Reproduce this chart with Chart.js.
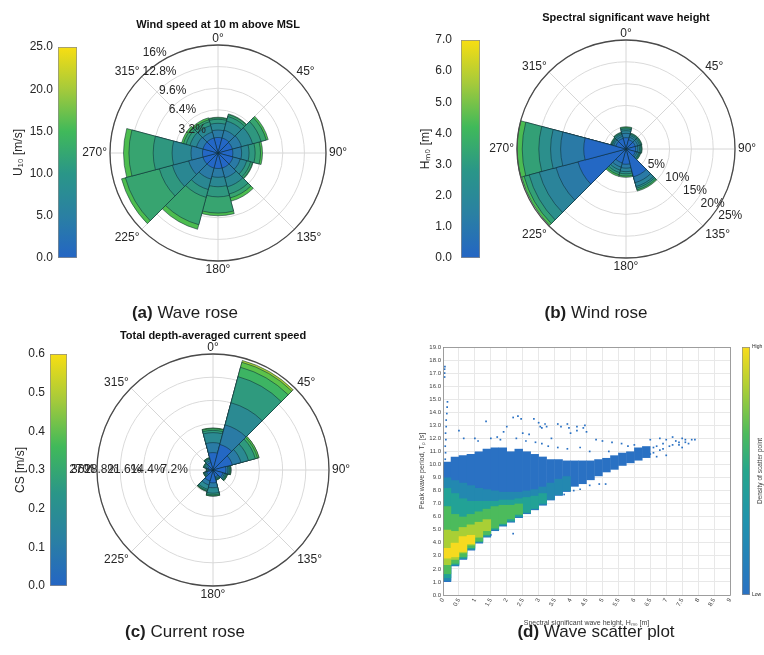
<!DOCTYPE html>
<html><head><meta charset="utf-8">
<script src="https://cdn.jsdelivr.net/npm/chart.js@4.4.1/dist/chart.umd.min.js"></script>
<style>
html,body{margin:0;padding:0;background:#fff;width:764px;height:655px;overflow:hidden;font-family:"Liberation Sans",Arial,sans-serif;}
canvas{position:absolute;}
.cap{position:absolute;font-size:17px;color:#1e1e1e;white-space:nowrap;transform:translate(-50%,-50%);}
</style></head><body>
<canvas id="cbA" style="left:0px;top:30px" width="95" height="245"></canvas>
<canvas id="roseA" style="left:68px;top:3px" width="300" height="300"></canvas>
<canvas id="cbB" style="left:400px;top:20px" width="95" height="260"></canvas>
<canvas id="roseB" style="left:476px;top:-1px" width="300" height="300"></canvas>
<canvas id="cbC" style="left:0px;top:334px" width="85" height="272"></canvas>
<canvas id="roseC" style="left:53px;top:310px" width="320" height="320"></canvas>
<canvas id="scat" style="left:395px;top:325px" width="345" height="310"></canvas>
<canvas id="cbD" style="left:730px;top:325px" width="34" height="290"></canvas>
<div class="cap" style="left:185px;top:313px"><b>(a)</b> Wave rose</div>
<div class="cap" style="left:596px;top:313px"><b>(b)</b> Wind rose</div>
<div class="cap" style="left:185px;top:632px"><b>(c)</b> Current rose</div>
<div class="cap" style="left:596px;top:632px"><b>(d)</b> Wave scatter plot</div>
<script>
// ---------------- DATA ----------------
const SECTORS = ['0°','30°','60°','90°','120°','150°','180°','210°','240°','270°','300°','330°'];
const ROSE_ANGLES = [0,45,90,135,180,225,270,315];

// (a) wind speed at 10 m: cumulative frequency (%) per sector, one row per speed class (inner -> outer)
const windCum = [
  [2.3,2.3,2.2,2.2,2.3,2.3,2.3,2.3,2.3,2.3,2.3,2.3],
  [3.4,3.5,3.6,3.5,3.4,3.8,3.6,4.0,4.5,4.0,3.3,3.2],
  [4.4,4.9,5.3,4.6,4.4,5.2,5.0,5.6,7.0,6.8,4.3,4.2],
  [5.0,5.6,6.6,5.5,5.0,6.3,6.5,6.8,9.0,9.6,4.9,4.8],
  [5.2,5.9,7.4,6.3,5.3,6.9,8.9,11.0,14.2,13.2,5.3,5.1],
  [5.3,6.0,7.7,6.6,5.4,7.4,9.3,11.7,14.8,14.0,5.6,5.4]
];
const windColors = ['#2467c6','#2a7aa5','#2a8792','#2f977f','#37a470','#4dbd4f'];
const windRVals = [3.2,6.4,9.6,12.8,16];
const windRLabels = ['3.2%','6.4%','9.6%','12.8%','16%'];

// (b) significant wave height
const waveCum = [
  [2.6,2.2,2.2,2.2,2.2,6.6,3.5,3.3,11.4,9.7,2.4,2.5],
  [3.6,2.8,2.8,2.7,2.6,8.0,4.4,4.3,16.6,15.0,2.9,3.0],
  [4.2,3.2,3.2,3.1,3.0,8.9,5.2,5.0,20.6,17.3,3.2,3.4],
  [4.6,3.5,3.5,3.4,3.2,9.3,5.7,5.6,23.0,20.0,3.4,3.7],
  [4.9,3.7,3.7,3.6,3.4,9.7,6.2,6.1,24.2,23.8,3.6,3.9],
  [5.1,3.8,3.8,3.7,3.5,10.0,6.5,6.5,24.8,25.0,3.7,4.0]
];
const waveColors = ['#2468c4','#2a7aa6','#2b849a','#2c8f8c','#33a076','#4cbc52'];
const waveRVals = [5,10,15,20,25];
const waveRLabels = ['5%','10%','15%','20%','25%'];

// (c) depth-averaged current speed
const currCum = [
  [5.4,8.2,6.2,4.0,3.2,2.2,4.0,3.5,2.0,1.2,1.6,2.4],
  [8.5,14.5,9.0,4.6,3.7,2.6,5.5,4.8,2.4,1.5,2.1,3.0],
  [11.6,21.6,11.4,5.0,4.1,2.9,7.2,6.2,2.7,1.8,2.6,3.5],
  [12.3,30.0,13.6,5.3,4.4,3.1,7.7,6.6,2.9,1.9,2.9,3.8],
  [12.8,33.0,14.3,5.5,4.6,3.2,8.0,6.8,3.0,2.0,3.0,3.9],
  [13.0,34.6,14.8,5.6,4.7,3.3,8.1,6.9,3.1,2.1,3.1,4.0],
  [13.0,35.2,14.8,5.6,4.7,3.3,8.1,6.9,3.1,2.1,3.1,4.0]
];
const currColors = ['#2468c4','#2a7ba5','#2b8a92','#2f9a7e','#3db463','#5cc24a','#a5cc36'];
const currRVals = [7.2,14.4,21.6,28.8,36];
const currRLabels = ['7.2%','14.4%','21.6%','28.8%','36%'];

// (d) scatter density: Hs bin centres and Tp ranges per density level
const hsBins = [0.125,0.375,0.625,0.875,1.125,1.375,1.625,1.875,2.125,2.375,2.625,2.875,3.125,3.375,3.625,3.875,4.125,4.375,4.625,4.875,5.125,5.375,5.625,5.875,6.125,6.375];
const densLow = [[1.0,10.2],[2.2,10.6],[2.7,10.7],[3.4,10.8],[3.95,11.0],[4.4,11.2],[4.9,11.3],[5.25,11.3],[5.55,11.0],[5.9,11.2],[6.2,11.0],[6.5,10.8],[6.85,10.6],[7.25,10.4],[7.6,10.4],[7.9,10.3],[8.3,10.3],[8.5,10.3],[8.8,10.3],[9.1,10.4],[9.4,10.5],[9.6,10.7],[9.9,10.9],[10.1,11.0],[10.3,11.3],[10.5,11.4]];
const densMid1 = [[1.1,9.0],[2.25,8.8],[2.75,8.6],[3.45,8.4],[4.0,8.2],[4.45,8.1],[4.95,8.0],[5.3,7.9],[5.6,7.9],[5.95,7.9],[6.25,8.0],[6.55,8.1],[6.9,8.3],[7.3,8.6],[7.65,8.9],[7.95,9.1]];
const densMid2 = [[1.3,8.2],[2.3,7.8],[2.8,7.4],[3.5,7.2],[4.05,7.2],[4.5,7.2],[5.0,7.2],[5.35,7.3],[5.65,7.3],[6.0,7.4],[6.3,7.5],[6.6,7.6],[7.0,7.8]];
const densMid3 = [[1.6,6.8],[2.4,6.2],[2.9,6.0],[3.6,6.2],[4.1,6.4],[4.6,6.6],[5.1,6.8],[5.45,6.9],[5.8,6.9],[6.15,7.0]];
const densHigh1 = [[2.3,5.0],[2.7,4.9],[3.2,5.2],[3.8,5.4],[4.4,5.6],[4.9,5.8]];
const densHigh2 = [[2.8,3.6],[2.9,4.0],[3.3,4.5],[3.9,4.6]];
const densColors = ['#f6da1f','#a9cf35','#4cbb5c','#22a296','#2388b0','#2a71c3'];
const sparsePts = [
  [0.07,10.4],[0.08,10.9],[0.07,11.4],[0.09,11.9],[0.08,12.4],[0.1,12.9],[0.1,13.4],[0.12,13.9],[0.13,14.4],[0.14,14.8],
  [0.05,16.7],[0.05,17.0],[0.05,17.3],[0.06,17.5],
  [1.35,13.3],[2.2,13.6],[2.35,13.7],[2.45,13.5],[2.85,13.5],[3.0,13.2],[3.05,12.9],[3.2,13.1],[3.1,12.8],[3.25,12.9],
  [3.6,13.1],[3.7,12.9],[3.9,13.1],[3.95,12.8],[4.2,12.9],[4.4,12.8],[4.45,13.0],[4.2,12.6],[2.0,12.9],[1.9,12.5],
  [2.5,12.4],[2.7,12.3],[3.4,12.0],[4.0,12.4],[4.5,12.5],[5.0,11.8],[4.8,11.9],[5.3,11.7],[5.6,11.6],[6.5,11.9],
  [6.8,12.0],[7.0,11.9],[7.2,12.1],[7.5,12.0],[7.6,11.7],[7.8,11.9],[7.4,11.5],[7.1,11.4],[6.9,11.2],[6.6,11.3],
  [7.0,10.7],[6.7,10.6],[6.4,11.0],[6.2,11.2],[6.9,11.6],[7.3,11.8],[7.5,11.3],[0.5,12.6],[0.65,12.0],[1.0,12.0],
  [1.1,11.8],[1.5,12.0],[1.7,12.1],[1.8,11.9],[2.3,12.0],[2.6,11.8],[2.9,11.7],[3.1,11.6],[3.3,11.4],[3.6,11.3],
  [3.9,11.2],[4.3,11.3],[4.6,11.0],[5.2,11.0],[5.8,11.4],[6.0,11.5],[1.5,4.6],[2.2,4.7],[3.8,7.7],[4.1,8.0],
  [4.6,8.4],[4.9,8.5],[5.1,8.5],[4.3,8.1],[6.6,10.9],[6.8,11.1],[7.2,11.5],[7.4,11.7],[7.6,11.9],[7.9,11.9],[7.7,11.6],[6.5,10.8],[6.7,11.4]
];

// ---------------- HELPERS ----------------
const FONT = '"Liberation Sans", Arial, sans-serif';
Chart.defaults.font.family = FONT;
Chart.defaults.color = '#262626';

const roseStops = [[0,'#2465c4'],[0.2,'#2a80a3'],[0.4,'#2a9688'],[0.6,'#40b95a'],[0.8,'#a5ca3b'],[1,'#f8de12']];
const densStops = [[0,'#2a71c3'],[0.3,'#2093ad'],[0.5,'#26a68c'],[0.65,'#4dbb5d'],[0.85,'#b3d033'],[1,'#f9dc1c']];

function makeColorbar(id, o) {
  return new Chart(document.getElementById(id), {
    type: 'bar',
    data: { labels: ['cb'], datasets: [{
      data: [o.max],
      backgroundColor: (c) => {
        const ca = c.chart.chartArea; if (!ca) return o.stops[0][1];
        const g = c.chart.ctx.createLinearGradient(0, ca.bottom, 0, ca.top);
        o.stops.forEach(s => g.addColorStop(s[0], s[1])); return g;
      },
      borderColor: '#8c8c8c', borderWidth: 1, borderSkipped: false,
      barPercentage: 1, categoryPercentage: 1
    }]},
    options: {
      responsive: false, animation: false,
      layout: { padding: o.pad },
      plugins: { legend: {display:false}, tooltip: {enabled:false} },
      scales: {
        x: { display: false },
        y: { position: o.position || 'left', min: 0, max: o.max,
          ticks: { stepSize: o.step, callback: o.fmt, font: {size: o.fontSize || 12}, color: '#262626', padding: o.tickPad },
          grid: { display: false, drawTicks: false }, border: { display: false },
          title: { display: !!o.title, text: o.title || '', font: {size: 12}, color: '#262626', padding: {top: o.titlePad || 0, bottom: 0} },
          afterFit: (s) => { s.width = o.axisW; }
        }
      }
    },
    plugins: o.plugins || []
  });
}

const rosePlugin = {
  id: 'rose',
  beforeDatasetsDraw(chart, args, opts) {
    const s = chart.scales.r, ctx = chart.ctx;
    ctx.save(); ctx.strokeStyle = '#d6d6d6'; ctx.lineWidth = 1;
    ROSE_ANGLES.forEach(a => {
      const t = (a - 90) * Math.PI / 180;
      ctx.beginPath(); ctx.moveTo(s.xCenter, s.yCenter);
      ctx.lineTo(s.xCenter + s.drawingArea * Math.cos(t), s.yCenter + s.drawingArea * Math.sin(t));
      ctx.stroke();
    });
    ctx.restore();
  },
  afterDraw(chart, args, opts) {
    const s = chart.scales.r, ctx = chart.ctx, cx = s.xCenter, cy = s.yCenter, R = s.drawingArea;
    ctx.save();
    ctx.strokeStyle = '#4a4a4a'; ctx.lineWidth = 1.3;
    ctx.beginPath(); ctx.arc(cx, cy, R, 0, Math.PI * 2); ctx.stroke();
    ctx.fillStyle = '#111'; ctx.font = 'bold 11px ' + FONT; ctx.textAlign = 'center'; ctx.textBaseline = 'middle';
    ctx.fillText(opts.title, cx, cy - R - opts.titleGap);
    ctx.font = '12px ' + FONT; ctx.fillStyle = '#262626';
    ROSE_ANGLES.forEach(a => {
      const t = (a - 90) * Math.PI / 180, off = 3;
      let x = cx + (R + off) * Math.cos(t), y = cy + (R + off) * Math.sin(t);
      let align = 'center', base = 'middle';
      if (a > 0 && a < 180) align = 'left'; if (a > 180) align = 'right';
      if (a === 0 || a === 45 || a === 315) base = 'alphabetic';
      if (a === 180 || a === 135 || a === 225) base = 'top';
      ctx.textAlign = align; ctx.textBaseline = base;
      ctx.fillText(a + '°', x, y);
    });
    const ra = (opts.rAngle - 90) * Math.PI / 180;
    ctx.textAlign = opts.rAlign; ctx.textBaseline = 'middle';
    opts.rVals.forEach((v, i) => {
      const d = s.getDistanceFromCenterForValue(v) + opts.rOff;
      ctx.fillText(opts.rLabels[i], cx + d * Math.cos(ra), cy + d * Math.sin(ra));
    });
    ctx.restore();
  }
};

function makeRose(id, cum, colors, maxR, stepR, pad, pcfg) {
  const datasets = cum.map((row, i) => ({
    data: row, backgroundColor: colors[i], borderColor: 'rgba(15,45,55,0.55)', borderWidth: 1
  }));
  return new Chart(document.getElementById(id), {
    type: 'polarArea',
    data: { labels: SECTORS, datasets },
    options: {
      responsive: false, animation: false,
      layout: { padding: pad },
      plugins: { legend: {display:false}, tooltip: {enabled:false}, rose: pcfg },
      scales: { r: {
        min: 0, max: maxR, startAngle: -15,
        ticks: { display: false, stepSize: stepR },
        grid: { circular: true, color: '#dadada', lineWidth: 1 },
        angleLines: { display: false }, pointLabels: { display: false }
      }}
    },
    plugins: [rosePlugin]
  });
}

// ---------------- PANELS ----------------
const f1 = v => v.toFixed(1);
makeColorbar('cbA', { max: 25, step: 5, fmt: f1, title: 'U₁₀ [m/s]', axisW: 58, tickPad: 5, titlePad: 11,
  pad: {left: 0, right: 18, top: 17, bottom: 17}, stops: roseStops });
makeRose('roseA', windCum, windColors, 16, 3.2, 42,
  { title: 'Wind speed at 10 m above MSL', titleGap: 20, rVals: windRVals, rLabels: windRLabels, rAngle: -27, rAlign: 'right', rOff: 5 });

makeColorbar('cbB', { max: 7, step: 1, fmt: f1, title: 'Hₘ₀ [m]', axisW: 61, tickPad: 9, titlePad: 18,
  pad: {left: 0, right: 15, top: 20, bottom: 22}, stops: roseStops });
makeRose('roseB', waveCum, waveColors, 25, 5, 41,
  { title: 'Spectral significant wave height', titleGap: 22, rVals: waveRVals, rLabels: waveRLabels, rAngle: 126, rAlign: 'left', rOff: 5 });

makeColorbar('cbC', { max: 0.6, step: 0.1, fmt: f1, title: 'CS [m/s]', axisW: 50, tickPad: 5, titlePad: 13,
  pad: {left: 0, right: 18, top: 20, bottom: 20}, stops: roseStops });
makeRose('roseC', currCum, currColors, 36, 7.2, 44,
  { title: 'Total depth-averaged current speed', titleGap: 18, rVals: currRVals, rLabels: currRLabels, rAngle: 270, rAlign: 'right', rOff: 2 });

// scatter density plot
const toBars = (arr) => arr.map((r, i) => ({ x: hsBins[i], y: r }));
const layers = [densHigh2, densHigh1, densMid3, densMid2, densMid1, densLow];
const barSets = layers.map((l, i) => ({
  type: 'bar', data: toBars(l), backgroundColor: densColors[i], borderWidth: 0,
  grouped: false, barPercentage: 1.06, categoryPercentage: 1
}));
const framePlugin = {
  id: 'frame',
  afterDatasetsDraw(chart) {
    const a = chart.chartArea, ctx = chart.ctx;
    ctx.save(); ctx.strokeStyle = '#8a8a8a'; ctx.lineWidth = 0.8;
    ctx.strokeRect(a.left + 0.5, a.top + 0.5, a.right - a.left, a.bottom - a.top); ctx.restore();
  }
};
new Chart(document.getElementById('scat'), {
  type: 'bar',
  data: { datasets: [
    { type: 'scatter', data: sparsePts.map(p => ({x: p[0], y: p[1]})), pointStyle: 'rect', pointRadius: 1.2,
      backgroundColor: '#2a71c3', borderWidth: 0 },
    ...barSets
  ]},
  options: {
    responsive: false, animation: false,
    layout: { padding: {left: 0, right: 10, top: 22, bottom: 0} },
    plugins: { legend: {display:false}, tooltip: {enabled:false} },
    scales: {
      x: { type: 'linear', min: 0, max: 9, offset: false,
        ticks: { stepSize: 0.5, minRotation: 60, maxRotation: 60, autoSkip: false, font: {size: 6}, color: '#404040', padding: 2,
          callback: v => String(Math.round(v * 10) / 10) },
        grid: { color: '#e8e8e8', offset: false, drawTicks: false }, border: { display: false },
        title: { display: true, text: 'Spectral significant wave height, Hₘ₀ [m]', font: {size: 7}, color: '#404040', padding: {top: 0, bottom: 8} },
        afterFit: (s) => { s.height = 40; } },
      y: { min: 0, max: 19,
        ticks: { stepSize: 1, callback: v => v.toFixed(1), font: {size: 6}, color: '#404040', padding: 2 },
        grid: { color: '#e8e8e8', drawTicks: false }, border: { display: false },
        title: { display: true, text: 'Peak wave period, Tₚ [s]', font: {size: 7}, color: '#404040', padding: {top: 23, bottom: 0} },
        afterFit: (s) => { s.width = 48; } }
    }
  },
  plugins: [framePlugin]
});

const densTitle = {
  id: 'densTitle',
  afterDraw(chart) {
    const ctx = chart.ctx, a = chart.chartArea;
    ctx.save(); ctx.translate(30, (a.top + a.bottom) / 2); ctx.rotate(-Math.PI / 2);
    ctx.font = '6.5px ' + FONT; ctx.fillStyle = '#404040'; ctx.textAlign = 'center'; ctx.textBaseline = 'middle';
    ctx.fillText('Density of scatter point', 0, 0); ctx.restore();
  }
};
makeColorbar('cbD', { max: 6, step: 1, fmt: v => (v === 6 ? 'High' : (v === 0 ? 'Low' : '')), axisW: 14, tickPad: 2, fontSize: 5,
  position: 'right', pad: {left: 12, right: 0, top: 22, bottom: 20}, stops: densStops, plugins: [densTitle] });
</script>
</body></html>
